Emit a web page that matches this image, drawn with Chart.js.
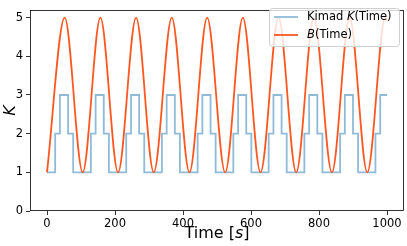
<!DOCTYPE html>
<html>
<head>
<meta charset="utf-8">
<script src="https://cdn.jsdelivr.net/npm/chart.js@4"></script>
<style>
  html, body { margin: 0; padding: 0; background: #fff; }
  #wrap { width: 407px; height: 246px; }
</style>
</head>
<body>
<div id="wrap"><canvas id="chart"></canvas></div>
<script>
const xTicks = [0, 200, 400, 600, 800, 1000]
const yTicks = [0, 1, 2, 3, 4, 5]

// Kimad K(Time): times where K changes and the level it changes to
const kTimes = [0, 24, 38, 62, 77, 129, 143, 167, 182, 233, 247, 271, 286, 338, 352, 376, 391,
  443, 457, 481, 496, 548, 562, 586, 601, 652, 666, 690, 705, 757, 771, 795, 810,
  862, 876, 900, 915, 966, 980, 1000]
const kValues = [1, 2, 3, 2, 1, 2, 3, 2, 1, 2, 3, 2, 1, 2, 3, 2, 1,
  2, 3, 2, 1, 2, 3, 2, 1, 2, 3, 2, 1, 2, 3, 2, 1,
  2, 3, 2, 1, 2, 3, 3]

// B(Time): the turning points of the curve
const bTimes = [0, 52, 105, 157, 209, 262, 314, 367, 419, 471, 524, 576, 628, 681, 733, 785, 838, 890, 942, 995, 1000]
const bValues = [1, 5, 1, 5, 1, 5, 1, 5, 1, 5, 1, 5, 1, 5, 1, 5, 1, 5, 1, 5, 4.9]

const FONT = "'DejaVu Sans', sans-serif"
const BLUE = '#8fbbd9'
const ORANGE = '#ff5722'

const toPoints = (xs, ys) => xs.map((x, i) => ({ x: x, y: ys[i] }))

// draws text made of [string, italic] pieces, starting at x
function drawParts(ctx, parts, x, y, size) {
  parts.forEach(([str, italic]) => {
    ctx.font = (italic ? 'italic ' : '') + size + 'px ' + FONT
    ctx.fillText(str, x, y)
    x += ctx.measureText(str).width
  })
}

function partsWidth(ctx, parts, size) {
  let w = 0
  parts.forEach(([str, italic]) => {
    ctx.font = (italic ? 'italic ' : '') + size + 'px ' + FONT
    w += ctx.measureText(str).width
  })
  return w
}

const decorations = {
  id: 'decorations',
  afterDraw(chart) {
    const { ctx, chartArea: a } = chart
    ctx.save()

    // frame round the plot
    ctx.strokeStyle = '#000'
    ctx.lineWidth = 0.8
    ctx.strokeRect(a.left + 0.5, a.top + 0.5, a.right - a.left - 1, a.bottom - a.top - 1)

    // axis titles
    ctx.fillStyle = '#000'
    ctx.textBaseline = 'alphabetic'
    const xTitle = [['Time [', false], ['s', true], [']', false]]
    const w = partsWidth(ctx, xTitle, 16)
    drawParts(ctx, xTitle, (a.left + a.right) / 2 - w / 2, 238, 16)

    ctx.save()
    ctx.translate(15, (a.top + a.bottom) / 2)
    ctx.rotate(-Math.PI / 2)
    ctx.font = 'italic 16px ' + FONT
    ctx.textAlign = 'center'
    ctx.fillText('K', 0, 0)
    ctx.restore()

    // legend
    const lx = 269.5, ly = 8.5, lw = 130, lh = 38
    ctx.beginPath()
    ctx.roundRect(lx, ly, lw, lh, 3)
    ctx.fillStyle = 'rgba(255,255,255,0.8)'
    ctx.fill()
    ctx.strokeStyle = '#d0d0d0'
    ctx.lineWidth = 1
    ctx.stroke()

    const entries = [
      { color: BLUE, y: 17.5, parts: [['Kimad ', false], ['K', true], ['(Time)', false]] },
      { color: ORANGE, y: 35.5, parts: [['B', true], ['(Time)', false]] }
    ]
    entries.forEach(e => {
      ctx.strokeStyle = e.color
      ctx.lineWidth = 1.8
      ctx.beginPath()
      ctx.moveTo(274, e.y - 0.5)
      ctx.lineTo(298, e.y - 0.5)
      ctx.stroke()
      ctx.fillStyle = '#000'
      ctx.textBaseline = 'middle'
      drawParts(ctx, e.parts, 307, e.y, 11.5)
    })

    ctx.restore()
  }
}

new Chart(document.getElementById('chart'), {
  type: 'scatter',
  data: {
    datasets: [
      {
        label: 'Kimad K(Time)',
        data: toPoints(kTimes, kValues),
        showLine: true,
        stepped: 'before',
        borderColor: BLUE,
        borderWidth: 1.8,
        pointRadius: 0,
        order: 1
      },
      {
        label: 'B(Time)',
        data: toPoints(bTimes, bValues),
        showLine: true,
        cubicInterpolationMode: 'monotone',
        borderColor: ORANGE,
        borderWidth: 1.8,
        pointRadius: 0,
        order: 0
      }
    ]
  },
  options: {
    responsive: true,
    maintainAspectRatio: false,
    animation: false,
    layout: { padding: { top: 3, right: 3, left: 0, bottom: 0 } },
    plugins: {
      legend: { display: false },
      tooltip: { enabled: false }
    },
    scales: {
      x: {
        type: 'linear',
        min: -50,
        max: 1050,
        afterBuildTicks: scale => { scale.ticks = xTicks.map(v => ({ value: v })) },
        afterFit: scale => { scale.height = 35 },
        border: { display: false },
        grid: { drawOnChartArea: false, drawTicks: true, tickLength: 4, color: '#000', lineWidth: 0.8 },
        ticks: {
          color: '#000', padding: 2, maxRotation: 0,
          font: { family: FONT, size: 11.5 },
          callback: v => String(v)
        }
      },
      y: {
        type: 'linear',
        min: 0,
        max: 5.2,
        afterBuildTicks: scale => { scale.ticks = yTicks.map(v => ({ value: v })) },
        afterFit: scale => { scale.width = 30 },
        border: { display: false },
        grid: { drawOnChartArea: false, drawTicks: true, tickLength: 4, color: '#000', lineWidth: 0.8 },
        ticks: {
          color: '#000', padding: 3,
          font: { family: FONT, size: 11.5 },
          callback: v => String(v)
        }
      }
    }
  },
  plugins: [decorations]
})
</script>
</body>
</html>
